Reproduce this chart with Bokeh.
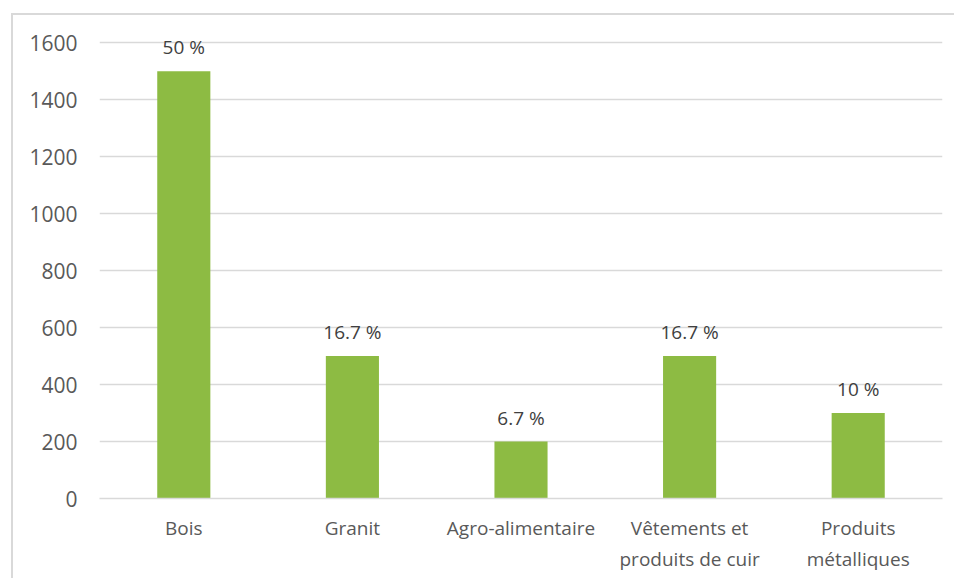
from bokeh.plotting import figure
from bokeh.models import ColumnDataSource, FactorRange, Range1d, FixedTicker
from bokeh.core.properties import value
from bokeh.embed import file_html
from bokeh.resources import INLINE

categories = ["Bois", "Granit", "Agro-alimentaire", "Vêtements et\nproduits de cuir", "Produits\nmétalliques"]
values = [1500, 500, 200, 500, 300]
pct_labels = ["50 %", "16.7 %", "6.7 %", "16.7 %", "10 %"]
y_ticks = [0, 200, 400, 600, 800, 1000, 1200, 1400, 1600]

src = ColumnDataSource(dict(cat=categories, val=values, lab=pct_labels))

p = figure(
    x_range=FactorRange(*categories, range_padding=0),
    y_range=Range1d(0, 1650),
    width=943, height=565,
    output_backend="svg", toolbar_location=None,
    min_border_left=86, min_border_right=14, min_border_top=13, min_border_bottom=82,
    margin=(13, 0, 0, 11),
    styles={"border-top": "2px solid #D9D9D9", "border-left": "2px solid #D9D9D9"},
)
p.outline_line_color = None
p.background_fill_color = "white"
p.border_fill_color = "white"

p.vbar(x="cat", top="val", width=0.315, source=src, color="#8DBB43", line_color=None)
p.text(x="cat", y="val", text="lab", source=src, text_align="center", text_baseline="middle",
       y_offset=-24, text_font=value("Open Sans"), text_font_size="19px", text_color="#404040")

p.xgrid.grid_line_color = None
p.ygrid.grid_line_color = "#D9D9D9"
p.ygrid.grid_line_width = 1.5
p.yaxis.ticker = FixedTicker(ticks=y_ticks)

p.yaxis.axis_line_color = None
p.yaxis.major_tick_line_color = None
p.yaxis.minor_tick_line_color = None
p.yaxis.major_label_text_font = "Open Sans"
p.yaxis.major_label_text_font_size = "21px"
p.yaxis.major_label_text_color = "#595959"
p.yaxis.major_label_standoff = 16

p.xaxis.axis_line_color = "#D9D9D9"
p.xaxis.axis_line_width = 1.5
p.xaxis.major_tick_line_color = None
p.xaxis.minor_tick_line_color = None
p.xaxis.major_label_text_font = "Open Sans"
p.xaxis.major_label_text_font_size = "19px"
p.xaxis.major_label_text_color = "#595959"
p.xaxis.major_label_standoff = 10
p.xaxis.group_text_font_size = "0px"

open("out.html", "w").write(file_html(p, INLINE))
